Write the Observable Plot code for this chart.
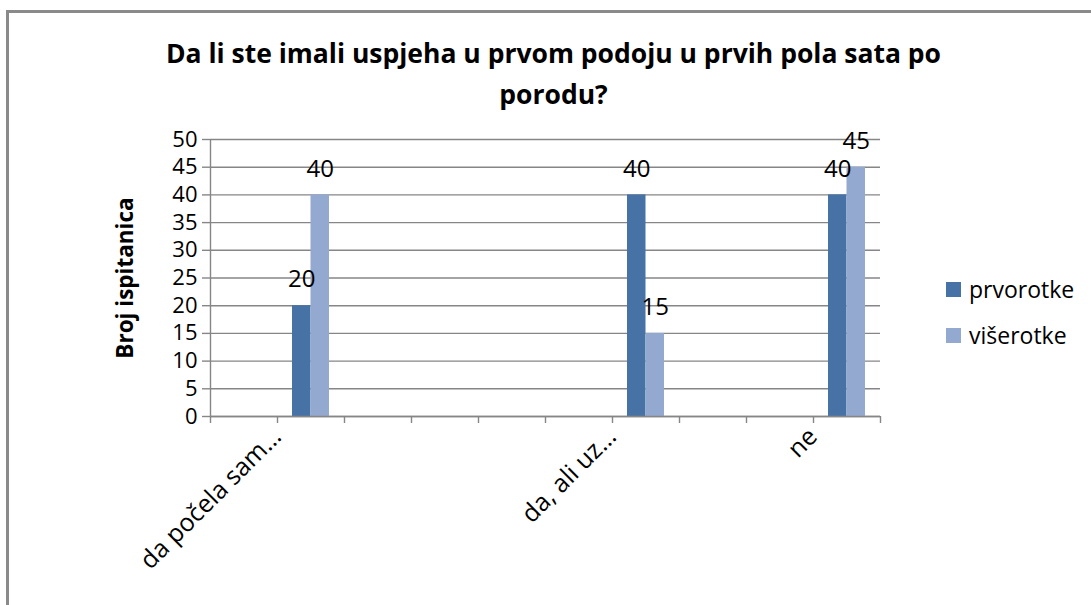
<!DOCTYPE html>
<html>
<head>
<meta charset="utf-8">
<script src="https://cdn.jsdelivr.net/npm/d3@7"></script>
<script src="https://cdn.jsdelivr.net/npm/@observablehq/plot@0.6"></script>
<style>
  html, body { margin: 0; padding: 0; background: #fff; }
  #wrap { position: relative; width: 1091px; height: 605px; overflow: hidden; background: #fff; font-family: "Open Sans", sans-serif; }
  #frame { position: absolute; left: 6px; top: 10px; width: 1200px; height: 800px; border-left: 3px solid #8a8a8a; border-top: 3px solid #8a8a8a; }
  #title { position: absolute; left: 0; top: 33px; width: 1107px; text-align: center; font-weight: 700; font-size: 26.5px; line-height: 41px; color: #000; }
  #chart { position: absolute; left: 0; top: 0; }
  .leg { position: absolute; left: 946px; display: flex; align-items: center; font-size: 23px; color: #000; }
  .leg span.sw { display: inline-block; width: 15px; height: 15px; margin-right: 8px; }
</style>
</head>
<body>
<div id="wrap">
  <div id="frame"></div>
  <div id="title">Da li ste imali uspjeha u prvom podoju u prvih pola sata po<br>porodu?</div>
  <div id="chart"></div>
  <div id="legend"></div>
</div>
<script>
// ---- data ----
const categories = ["", "da počela sam…", "", "", "", "", "da, ali uz…", "", "", "ne"];
const seriesNames = ["prvorotke", "višerotke"];
const prvorotke = [null, 20, null, null, null, null, 40, null, null, 40];
const viserotke = [null, 40, null, null, null, null, 15, null, null, 45];
const yTicks = [0, 5, 10, 15, 20, 25, 30, 35, 40, 45, 50];
const yLabel = "Broj ispitanica";
const seriesColors = ["#4672A6", "#94A9D0"];

// ---- table built from arrays ----
const rows = [];
categories.forEach((c, i) => {
  [prvorotke, viserotke].forEach((arr, s) => {
    if (arr[i] != null) rows.push({i, s, series: seriesNames[s], value: arr[i]});
  });
});

const gridColor = "#868686";
const left = (d) => d.i + (d.s === 0 ? 0.224 : 0.5);
const right = (d) => d.i + (d.s === 0 ? 0.5 : 0.776);

const chart = Plot.plot({
  width: 1091,
  height: 605,
  marginLeft: 210,
  marginRight: 211,
  marginTop: 139,
  marginBottom: 189,
  style: {fontFamily: "'Open Sans', sans-serif", background: "transparent", color: "#000"},
  x: {type: "linear", domain: [0, categories.length]},
  y: {domain: [0, 50]},
  color: {domain: seriesNames, range: seriesColors},
  marks: [
    Plot.ruleY(yTicks, {stroke: gridColor, strokeWidth: 1.4}),
    Plot.rectY(rows, {x1: left, x2: right, y: "value", fill: "series"}),
    Plot.ruleX([0], {stroke: gridColor, strokeWidth: 1.4}),
    Plot.ruleY([0], {stroke: gridColor, strokeWidth: 1.4}),
    Plot.axisY({ticks: yTicks, tickSize: 8, tickPadding: 5, fontSize: 22, stroke: gridColor, strokeWidth: 1.4, label: null, tickFormat: d3.format("d")}),
    Plot.axisX({ticks: d3.range(0, categories.length + 1), tickSize: 7, stroke: gridColor, strokeWidth: 1.4, tickFormat: () => "", label: null}),
    Plot.axisX({
      ticks: categories.map((c, i) => i + 0.5).filter((v, i) => categories[i] !== ""),
      tickSize: 0, tickPadding: 16, tickRotate: -45, fontSize: 25, label: null, dx: -34,
      tickFormat: (v) => categories[Math.floor(v)]
    }),
    Plot.text(rows, {x: (d) => (left(d) + right(d)) / 2, y: "value", text: (d) => String(d.value), dy: -26, fontSize: 24, lineAnchor: "middle", fill: "#000"}),
    Plot.text([yLabel], {frameAnchor: "left", textAnchor: "middle", dx: -85, rotate: -90, fontSize: 22.5, fontWeight: "bold", fill: "#000"})
  ]
});
document.getElementById("chart").appendChild(chart);

// ---- legend ----
const legend = document.getElementById("legend");
const legTops = [273, 319];
seriesNames.forEach((name, s) => {
  const el = document.createElement("div");
  el.className = "leg";
  el.style.top = legTops[s] + "px";
  el.innerHTML = `<span class="sw" style="background:${seriesColors[s]}"></span><span>${name}</span>`;
  legend.appendChild(el);
});
</script>
</body>
</html>
